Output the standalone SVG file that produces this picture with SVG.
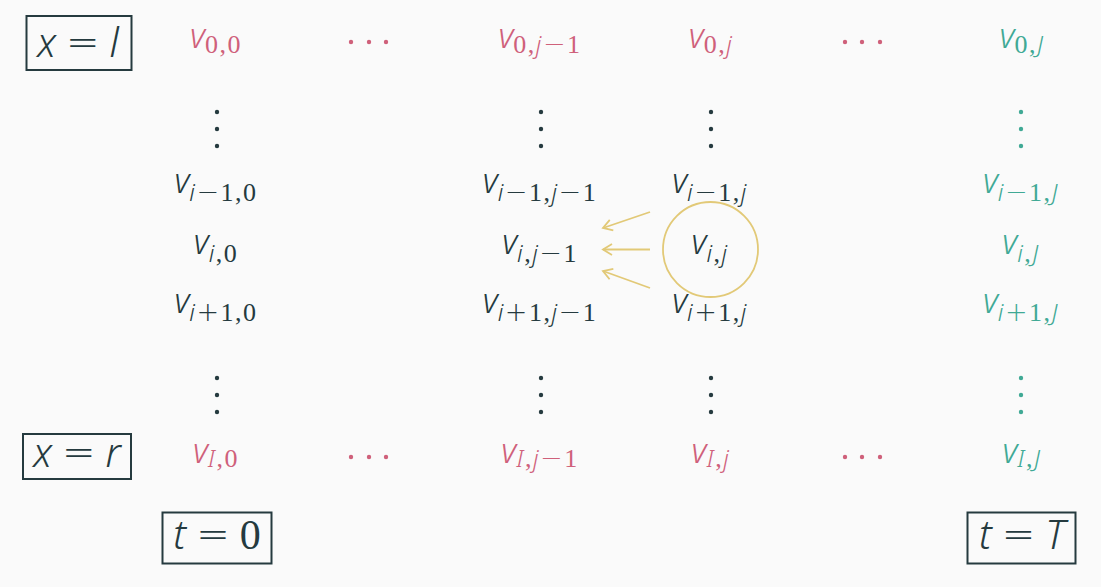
<svg xmlns="http://www.w3.org/2000/svg" width="1101" height="587" viewBox="0 0 1101 587">
<style>
.v{font-family:"Noto Sans",sans-serif;font-style:italic;font-size:34px;font-weight:300}
.s{font-family:"Noto Sans",sans-serif;font-style:italic;font-size:24px;font-weight:300;letter-spacing:1.5px}
.d{font-family:"Liberation Serif",serif;font-style:normal;font-size:26px;letter-spacing:1.5px}
.m{font-family:"DejaVu Sans",sans-serif;font-style:normal;font-size:27px;font-weight:300;letter-spacing:1.5px}
.bt{font-family:"Noto Sans",sans-serif;font-style:italic;font-size:40px;font-weight:300;fill:#253a3f}
.eq{font-family:"DejaVu Sans",sans-serif;font-style:normal;font-size:40px;font-weight:300}
.n{font-family:"Liberation Serif",serif;font-style:normal;font-size:42px}
.dark{fill:#253a3f}
.red{fill:#cf607a}
.teal{fill:#40a995}
.box{fill:none;stroke:#253a3f;stroke-width:2}
.arr{stroke:#e2c977;stroke-width:1.8;fill:none}
</style>
<defs>
<marker id="ah" markerUnits="userSpaceOnUse" markerWidth="14" markerHeight="14" refX="0" refY="0" viewBox="-12 -7 14 14" orient="auto">
<path d="M-9,-5.5 L0,0 L-9,5.5" fill="none" stroke="#e2c977" stroke-width="1.8"/>
</marker>
</defs>
<rect width="1101" height="587" fill="#fafafa"/>

<g id="box-xl"><rect class="box" x="26.5" y="16" width="105" height="54"/>
<text class="bt" x="78" y="57" text-anchor="middle">x<tspan class="eq" dx="10" dy="-1">=</tspan><tspan dx="10" dy="1">l</tspan></text></g>
<g id="box-xr"><rect class="box" x="23" y="434" width="108" height="45"/>
<text class="bt" x="77" y="467" text-anchor="middle">x<tspan class="eq" dx="10" dy="-1">=</tspan><tspan dx="10" dy="1">r</tspan></text></g>
<g id="box-t0"><rect class="box" x="162.5" y="512.5" width="109" height="51"/>
<text class="bt" x="217" y="549" text-anchor="middle">t<tspan class="eq" dx="10" dy="-1">=</tspan><tspan class="n" dx="10" dy="1">0</tspan></text></g>
<g id="box-tT"><rect class="box" x="967.5" y="512.5" width="108" height="51"/>
<text class="bt" x="1022" y="549" text-anchor="middle">t<tspan class="eq" dx="10" dy="-1">=</tspan><tspan dx="10" dy="1">T</tspan></text></g>

<!-- row 0 -->
<g id="v00"><text class="red" x="216" y="48" text-anchor="middle"><tspan class="v">v</tspan><tspan class="d" dy="5">0,0</tspan></text></g>
<g id="v0jm1"><text class="red" x="540" y="48" text-anchor="middle"><tspan class="v">v</tspan><tspan class="d" dy="5">0,</tspan><tspan class="s">j</tspan><tspan class="m">−</tspan><tspan class="d">1</tspan></text></g>
<g id="v0j"><text class="red" x="711" y="48" text-anchor="middle"><tspan class="v">v</tspan><tspan class="d" dy="5">0,</tspan><tspan class="s">j</tspan></text></g>
<g id="v0J"><text class="teal" x="1022" y="48" text-anchor="middle"><tspan class="v">v</tspan><tspan class="d" dy="5">0,</tspan><tspan class="s">J</tspan></text></g>

<!-- row i-1 -->
<g id="vim10"><text class="dark" x="216" y="193" text-anchor="middle"><tspan class="v">v</tspan><tspan class="s" dy="7.5">i</tspan><tspan class="m">−</tspan><tspan class="d">1,0</tspan></text></g>
<g id="vim1jm1"><text class="dark" x="540" y="193" text-anchor="middle"><tspan class="v">v</tspan><tspan class="s" dy="7.5">i</tspan><tspan class="m">−</tspan><tspan class="d">1,</tspan><tspan class="s">j</tspan><tspan class="m">−</tspan><tspan class="d">1</tspan></text></g>
<g id="vim1j"><text class="dark" x="710" y="193" text-anchor="middle"><tspan class="v">v</tspan><tspan class="s" dy="7.5">i</tspan><tspan class="m">−</tspan><tspan class="d">1,</tspan><tspan class="s">j</tspan></text></g>
<g id="vim1J"><text class="teal" x="1021" y="193" text-anchor="middle"><tspan class="v">v</tspan><tspan class="s" dy="7.5">i</tspan><tspan class="m">−</tspan><tspan class="d">1,</tspan><tspan class="s">J</tspan></text></g>

<!-- row i -->
<g id="vi0"><text class="dark" x="216" y="254" text-anchor="middle"><tspan class="v">v</tspan><tspan class="s" dy="7.5">i</tspan><tspan class="d">,0</tspan></text></g>
<g id="vijm1"><text class="dark" x="540" y="254" text-anchor="middle"><tspan class="v">v</tspan><tspan class="s" dy="7.5">i</tspan><tspan class="d">,</tspan><tspan class="s">j</tspan><tspan class="m">−</tspan><tspan class="d">1</tspan></text></g>
<g id="vij"><circle cx="710.5" cy="249.5" r="47.5" fill="none" stroke="#e2c977" stroke-width="1.8"/><text class="dark" x="710" y="254" text-anchor="middle"><tspan class="v">v</tspan><tspan class="s" dy="7.5">i</tspan><tspan class="d">,</tspan><tspan class="s">j</tspan></text></g>
<g id="viJ"><text class="teal" x="1021" y="254" text-anchor="middle"><tspan class="v">v</tspan><tspan class="s" dy="7.5">i</tspan><tspan class="d">,</tspan><tspan class="s">J</tspan></text></g>

<!-- row i+1 -->
<g id="vip10"><text class="dark" x="216" y="313" text-anchor="middle"><tspan class="v">v</tspan><tspan class="s" dy="7.5">i</tspan><tspan class="m">+</tspan><tspan class="d">1,0</tspan></text></g>
<g id="vip1jm1"><text class="dark" x="540" y="313" text-anchor="middle"><tspan class="v">v</tspan><tspan class="s" dy="7.5">i</tspan><tspan class="m">+</tspan><tspan class="d">1,</tspan><tspan class="s">j</tspan><tspan class="m">−</tspan><tspan class="d">1</tspan></text></g>
<g id="vip1j"><text class="dark" x="710" y="313" text-anchor="middle"><tspan class="v">v</tspan><tspan class="s" dy="7.5">i</tspan><tspan class="m">+</tspan><tspan class="d">1,</tspan><tspan class="s">j</tspan></text></g>
<g id="vip1J"><text class="teal" x="1021" y="313" text-anchor="middle"><tspan class="v">v</tspan><tspan class="s" dy="7.5">i</tspan><tspan class="m">+</tspan><tspan class="d">1,</tspan><tspan class="s">J</tspan></text></g>

<!-- row I -->
<g id="vI0"><text class="red" x="216" y="463" text-anchor="middle"><tspan class="v">v</tspan><tspan class="s" dy="4">I</tspan><tspan class="d">,0</tspan></text></g>
<g id="vIjm1"><text class="red" x="540" y="463" text-anchor="middle"><tspan class="v">v</tspan><tspan class="s" dy="4">I</tspan><tspan class="d">,</tspan><tspan class="s">j</tspan><tspan class="m">−</tspan><tspan class="d">1</tspan></text></g>
<g id="vIj"><text class="red" x="711" y="463" text-anchor="middle"><tspan class="v">v</tspan><tspan class="s" dy="4">I</tspan><tspan class="d">,</tspan><tspan class="s">j</tspan></text></g>
<g id="vIJ"><text class="teal" x="1022" y="463" text-anchor="middle"><tspan class="v">v</tspan><tspan class="s" dy="4">I</tspan><tspan class="d">,</tspan><tspan class="s">J</tspan></text></g>

<!-- dots -->
<g id="dots">
<g class="red">
<circle cx="351" cy="42" r="2.2"/><circle cx="369" cy="42" r="2.2"/><circle cx="386" cy="42" r="2.2"/>
<circle cx="845" cy="42" r="2.2"/><circle cx="862" cy="42" r="2.2"/><circle cx="880" cy="42" r="2.2"/>
<circle cx="351" cy="457" r="2.2"/><circle cx="369" cy="457" r="2.2"/><circle cx="386" cy="457" r="2.2"/>
<circle cx="845" cy="457" r="2.2"/><circle cx="862" cy="457" r="2.2"/><circle cx="880" cy="457" r="2.2"/>
</g>
<g class="dark">
<circle cx="217" cy="112" r="2.2"/><circle cx="217" cy="129" r="2.2"/><circle cx="217" cy="146" r="2.2"/>
<circle cx="541" cy="112" r="2.2"/><circle cx="541" cy="129" r="2.2"/><circle cx="541" cy="146" r="2.2"/>
<circle cx="711" cy="112" r="2.2"/><circle cx="711" cy="129" r="2.2"/><circle cx="711" cy="146" r="2.2"/>
<circle cx="217" cy="378" r="2.2"/><circle cx="217" cy="395" r="2.2"/><circle cx="217" cy="412" r="2.2"/>
<circle cx="541" cy="378" r="2.2"/><circle cx="541" cy="395" r="2.2"/><circle cx="541" cy="412" r="2.2"/>
<circle cx="711" cy="378" r="2.2"/><circle cx="711" cy="395" r="2.2"/><circle cx="711" cy="412" r="2.2"/>
</g>
<g class="teal">
<circle cx="1021" cy="112" r="2.2"/><circle cx="1021" cy="129" r="2.2"/><circle cx="1021" cy="146" r="2.2"/>
<circle cx="1021" cy="378" r="2.2"/><circle cx="1021" cy="395" r="2.2"/><circle cx="1021" cy="412" r="2.2"/>
</g>
</g>

<g id="connectors">
<line class="arr" x1="650" y1="212" x2="603" y2="228" marker-end="url(#ah)"/>
<line class="arr" x1="650" y1="249.5" x2="603" y2="249.5" marker-end="url(#ah)"/>
<line class="arr" x1="650" y1="288" x2="603" y2="271" marker-end="url(#ah)"/>
</g>
</svg>
